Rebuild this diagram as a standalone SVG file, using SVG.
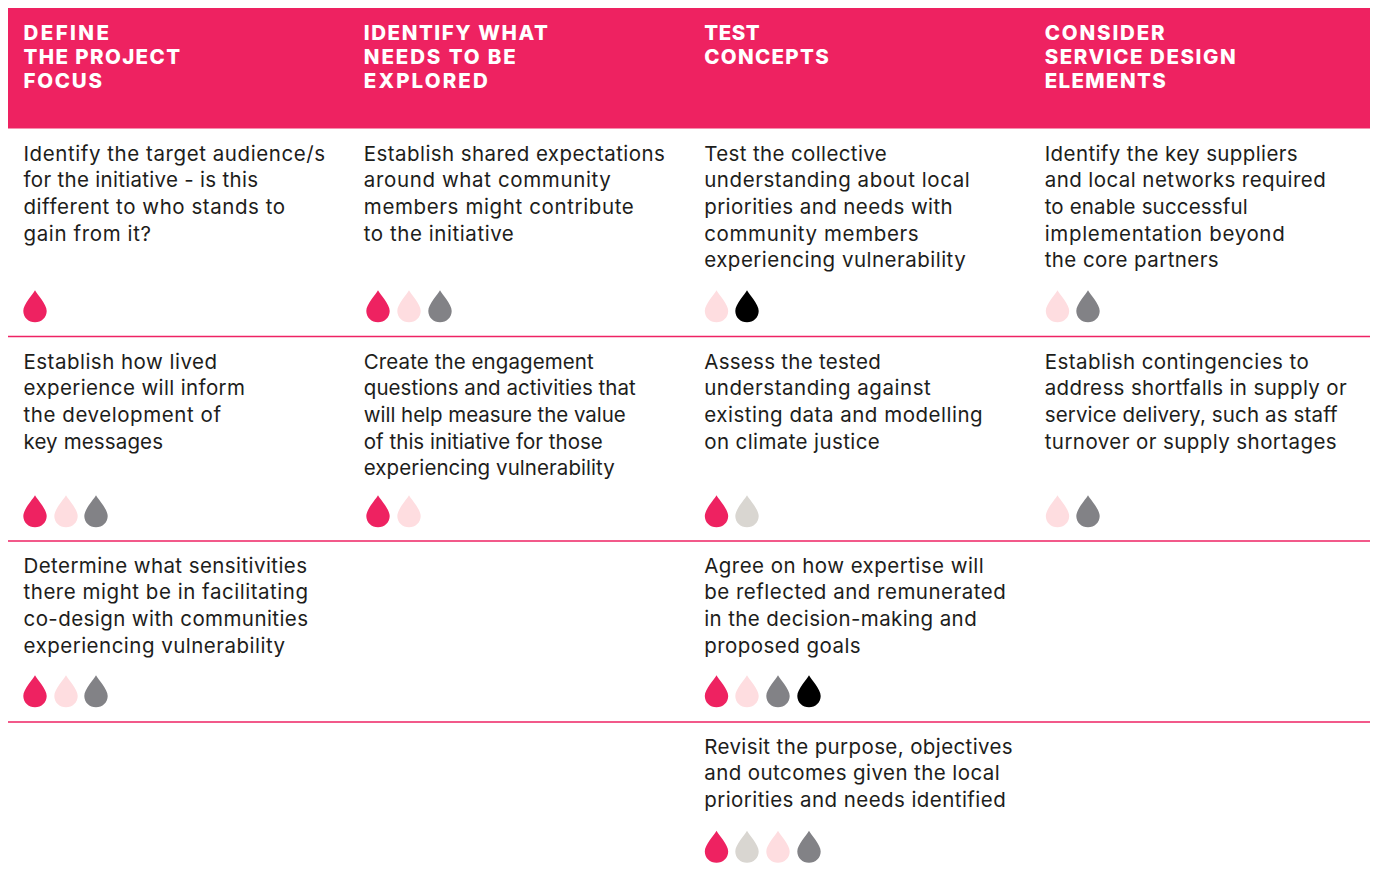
<svg xmlns="http://www.w3.org/2000/svg" width="1375" height="872" viewBox="0 0 1375 872">
<style>
text{font-family:"Inter","Liberation Sans",sans-serif}
.h{font-size:20.500px;font-weight:800;fill:#fff}
.b{font-size:20.500px;font-weight:400;fill:#1d1d1b}
.r{stroke:#ee2364;stroke-width:1.300;fill:none}
.p{fill:#ee2261}.l{fill:#fedde0}.g{fill:#828286}.k{fill:#000}.s{fill:#d9d6d1}
</style>
<defs><path id="d" d="M0 -.7C2 3 11.700 13.500 11.700 20C11.700 26.500 6.500 31.300 0 31.300C-6.500 31.300-11.700 26.500-11.700 20C-11.700 13.500-2 3 0 -.7Z"/></defs>
<rect id="header" x="8" y="8" width="1362" height="120.500" fill="#ee2261"/>
<g id="rules">
<path class="r" d="M8 336.500H1370M8 541H1370M8 722H1370"/>
</g>
<g id="headers">
<g id="h1"><text class="h" x="23.500" y="40" textLength="85.500">DEFINE</text><text class="h" x="23.500" y="64" textLength="156.500">THE PROJECT</text><text class="h" x="23.500" y="88" textLength="78.500">FOCUS</text></g>
<g id="h2"><text class="h" x="363.800" y="40" textLength="184">IDENTIFY WHAT</text><text class="h" x="363.800" y="64" textLength="152">NEEDS TO BE</text><text class="h" x="363.800" y="88" textLength="124">EXPLORED</text></g>
<g id="h3"><text class="h" x="704.200" y="40" textLength="55.500">TEST</text><text class="h" x="704.200" y="64" textLength="124.500">CONCEPTS</text></g>
<g id="h4"><text class="h" x="1044.700" y="40" textLength="120">CONSIDER</text><text class="h" x="1044.700" y="64" textLength="191">SERVICE DESIGN</text><text class="h" x="1044.700" y="88" textLength="121">ELEMENTS</text></g>
</g>
<g id="c11"><text class="b" x="23.500" y="160.700" textLength="301.500">Identify the target audience/s</text><text class="b" x="23.500" y="187.200" textLength="234.500">for the initiative - is this</text><text class="b" x="23.500" y="213.700" textLength="261.500">different to who stands to</text><text class="b" x="23.500" y="240.700" textLength="127.500">gain from it?</text>
<use href="#d" class="p" x="35" y="291"/></g>
<g id="c12"><text class="b" x="363.800" y="160.700" textLength="301">Establish shared expectations</text><text class="b" x="363.800" y="187.200" textLength="247">around what community</text><text class="b" x="363.800" y="213.700" textLength="270">members might contribute</text><text class="b" x="363.800" y="240.700" textLength="150">to the initiative</text>
<use href="#d" class="p" x="378" y="291"/><use href="#d" class="l" x="409" y="291"/><use href="#d" class="g" x="440" y="291"/></g>
<g id="c13"><text class="b" x="704.200" y="160.700" textLength="182.500">Test the collective</text><text class="b" x="704.200" y="187.200" textLength="265.500">understanding about local</text><text class="b" x="704.200" y="213.700" textLength="248.500">priorities and needs with</text><text class="b" x="704.200" y="240.700" textLength="214.500">community members</text><text class="b" x="704.200" y="266.700" textLength="261.500">experiencing vulnerability</text>
<use href="#d" class="l" x="716.500" y="291"/><use href="#d" class="k" x="747" y="291"/></g>
<g id="c14"><text class="b" x="1044.700" y="160.700" textLength="253">Identify the key suppliers</text><text class="b" x="1044.700" y="187.200" textLength="281">and local networks required</text><text class="b" x="1044.700" y="213.700" textLength="203">to enable successful</text><text class="b" x="1044.700" y="240.700" textLength="240">implementation beyond</text><text class="b" x="1044.700" y="266.700" textLength="174">the core partners</text>
<use href="#d" class="l" x="1057.500" y="291"/><use href="#d" class="g" x="1088" y="291"/></g>
<g id="c21"><text class="b" x="23.500" y="368.700" textLength="193.500">Establish how lived</text><text class="b" x="23.500" y="395.200" textLength="221.500">experience will inform</text><text class="b" x="23.500" y="421.700" textLength="197.500">the development of</text><text class="b" x="23.500" y="448.700" textLength="139.500">key messages</text>
<use href="#d" class="p" x="35" y="496"/><use href="#d" class="l" x="66" y="496"/><use href="#d" class="g" x="96" y="496"/></g>
<g id="c22"><text class="b" x="363.800" y="368.700" textLength="230">Create the engagement</text><text class="b" x="363.800" y="395.200" textLength="272">questions and activities that</text><text class="b" x="363.800" y="421.700" textLength="262">will help measure the value</text><text class="b" x="363.800" y="448.700" textLength="239">of this initiative for those</text><text class="b" x="363.800" y="474.700" textLength="251">experiencing vulnerability</text>
<use href="#d" class="p" x="378" y="496"/><use href="#d" class="l" x="409" y="496"/></g>
<g id="c23"><text class="b" x="704.200" y="368.700" textLength="176.500">Assess the tested</text><text class="b" x="704.200" y="395.200" textLength="226.500">understanding against</text><text class="b" x="704.200" y="421.700" textLength="278.500">existing data and modelling</text><text class="b" x="704.200" y="448.700" textLength="175.500">on climate justice</text>
<use href="#d" class="p" x="716.500" y="496"/><use href="#d" class="s" x="747" y="496"/></g>
<g id="c24"><text class="b" x="1044.700" y="368.700" textLength="264">Establish contingencies to</text><text class="b" x="1044.700" y="395.200" textLength="302">address shortfalls in supply or</text><text class="b" x="1044.700" y="421.700" textLength="293">service delivery, such as staff</text><text class="b" x="1044.700" y="448.700" textLength="292">turnover or supply shortages</text>
<use href="#d" class="l" x="1057.500" y="496"/><use href="#d" class="g" x="1088" y="496"/></g>
<g id="c31"><text class="b" x="23.500" y="572.700" textLength="283.500">Determine what sensitivities</text><text class="b" x="23.500" y="599.200" textLength="284.500">there might be in facilitating</text><text class="b" x="23.500" y="625.700" textLength="284.500">co-design with communities</text><text class="b" x="23.500" y="652.700" textLength="261.500">experiencing vulnerability</text>
<use href="#d" class="p" x="35" y="676"/><use href="#d" class="l" x="66" y="676"/><use href="#d" class="g" x="96" y="676"/></g>
<g id="c33"><text class="b" x="704.200" y="572.700" textLength="279.500">Agree on how expertise will</text><text class="b" x="704.200" y="599.200" textLength="301.500">be reflected and remunerated</text><text class="b" x="704.200" y="625.700" textLength="272.500">in the decision-making and</text><text class="b" x="704.200" y="652.700" textLength="156.500">proposed goals</text>
<use href="#d" class="p" x="716.500" y="676"/><use href="#d" class="l" x="747" y="676"/><use href="#d" class="g" x="778" y="676"/><use href="#d" class="k" x="809" y="676"/></g>
<g id="c43"><text class="b" x="704.200" y="753.700" textLength="308.500">Revisit the purpose, objectives</text><text class="b" x="704.200" y="780.200" textLength="295.500">and outcomes given the local</text><text class="b" x="704.200" y="806.700" textLength="301.500">priorities and needs identified</text>
<use href="#d" class="p" x="716.500" y="831.500"/><use href="#d" class="s" x="747" y="831.500"/><use href="#d" class="l" x="778" y="831.500"/><use href="#d" class="g" x="809" y="831.500"/></g>
</svg>
